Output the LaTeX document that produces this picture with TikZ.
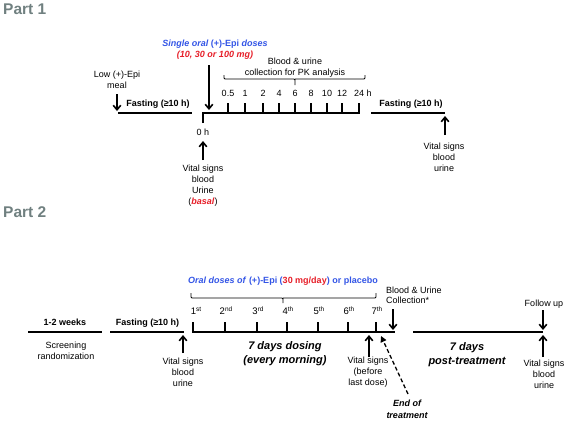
\documentclass[tikz,border=0pt]{standalone}
\usepackage{fontspec}
\setmainfont{Liberation Sans}
\usetikzlibrary{arrows.meta}
\definecolor{titlegray}{RGB}{112,128,128}
\definecolor{doseblue}{RGB}{51,85,230}
\definecolor{dosered}{RGB}{230,30,40}
\newcommand{\ordsup}[1]{\raisebox{3pt}{\fontsize{6.5}{7}\selectfont #1}}
\tikzset{
  txt/.style={font=\fontsize{9}{11}\selectfont, align=center, inner sep=0pt},
  bold/.style={txt, font=\fontsize{9}{11}\selectfont\bfseries},
  big/.style={txt, font=\fontsize{11}{14}\selectfont\bfseries\itshape},
  parttitle/.style={inner sep=0pt, anchor=west, text=titlegray, font=\fontsize{15.5}{18}\selectfont\bfseries},
  bar/.style={line width=1.6pt},
  tickmark/.style={line width=1.5pt},
  arr/.style={line width=1.6pt, -{Straight Barb[length=4.5pt,width=7.5pt]}},
  dasharr/.style={line width=1.3pt, dashed, dash pattern=on 4pt off 2.5pt, -{Triangle[length=6pt,width=6pt]}},
  bracket/.style={line width=0.8pt, rounded corners=1pt},
}

\begin{document}
\begin{tikzpicture}[x=1pt,y=-1pt]
  \useasboundingbox (0,0) rectangle (567,421);

  % Part 1
  \node[parttitle] (title1) at (3,9) {Part 1};

  % Meal and first fasting
  \node[txt] (meal) at (117,80) {Low (+)-Epi\\meal};
  \coordinate (mealA) at (117,94);
  \coordinate (mealB) at (117,111);
  \coordinate (fastA) at (118,113);
  \coordinate (fastB) at (192,113);
  \node[bold, anchor=base] (fast1) at (158,106.5) {Fasting (≥10 h)};
  \draw[arr] (mealA) -- (mealB);
  \draw[bar] (fastA) -- (fastB);

  % Dose and PK sampling
  \node[bold, text=doseblue] (dose1) at (215,49.5)
    {\textit{Single oral} (+)-Epi \textit{doses}\\\textcolor{dosered}{\textit{(10, 30 or 100 mg)}}};
  \coordinate (doseA) at (209,65);
  \coordinate (doseB) at (209,110);
  \draw[arr] (doseA) -- (doseB);

  \coordinate (zeroA) at (203,123);
  \coordinate (lineB) at (360,113);
  \draw[bar] (zeroA) |- (lineB);
  \foreach \t/\x [count=\i] in {0.5/228, 1/245, 2/263, 4/279, 6/295, 8/311, 10/327, 12/342, {24\rlap{ h}}/359} {
    \draw[tickmark] (\x,113) -- (\x,103);
    \node[txt, anchor=base] (h\i) at (\x,96.5) {\t};
  }
  \node[txt] (pk) at (295,67.5) {Blood \& urine\\collection for PK analysis};
  \draw[bracket] (224,75) |- (295,79) -- (295,85) (295,79) -| (365,75);

  \node[txt, anchor=base] (zero) at (203,135.5) {0 h};
  \coordinate (vitA) at (203,160);
  \coordinate (vitB) at (203,141);
  \draw[arr] (vitA) -- (vitB);
  \node[txt] (vit1) at (203,185.5)
    {Vital signs\\blood\\Urine\\(\textcolor{dosered}{\textbf{\textit{basal}}})};

  % Second fasting
  \coordinate (fastC) at (371,113);
  \coordinate (fastD) at (445,113);
  \draw[bar] (fastC) -- (fastD);
  \node[bold, anchor=base] (fast2) at (411,106.5) {Fasting (≥10 h)};
  \coordinate (vitC) at (445,135);
  \coordinate (vitD) at (445,116);
  \draw[arr] (vitC) -- (vitD);
  \node[txt] (vit2) at (444,157) {Vital signs\\blood\\urine};

  % Part 2
  \node[parttitle] (title2) at (3,212) {Part 2};

  % Screening and fasting
  \coordinate (scrA) at (28,332);
  \coordinate (scrB) at (102,332);
  \draw[bar] (scrA) -- (scrB);
  \node[bold, anchor=base] (weeks) at (65,325) {1-2 weeks};
  \node[txt] (screen) at (66,350.5) {Screening\\randomization};

  \coordinate (fastE) at (110,332);
  \coordinate (fastF) at (184,332);
  \draw[bar] (fastE) -- (fastF);
  \node[bold, anchor=base] (fast3) at (147.5,325) {Fasting (≥10 h)};
  \coordinate (vitE) at (183,353);
  \coordinate (vitF) at (183,335);
  \draw[arr] (vitE) -- (vitF);
  \node[txt] (vit3) at (183,372) {Vital signs\\blood\\urine};

  % Seven days of dosing
  \node[bold, text=doseblue] (oral) at (283,281)
    {\textit{Oral doses of} (+)-Epi (\textcolor{dosered}{30 mg/day}) or placebo};
  \draw[bracket] (191,293) |- (283,298) -- (283,303) (283,298) -| (376,293);

  \coordinate (dayA) at (193,322);
  \coordinate (dayB) at (395,332);
  \draw[bar] (dayA) |- (dayB);
  \foreach \d/\s/\x [count=\i] in {1/st/196, 2/nd/226, 3/rd/258, 4/th/288, 5/th/319, 6/th/349, 7/th/377} {
    \ifnum\i>1 \draw[tickmark] (\x-1,332) -- (\x-1,322); \fi
    \node[txt, font=\fontsize{9.5}{11}\selectfont, anchor=base] (d\i) at (\x,314.5) {\d\ordsup{\s}};
  }
  \node[big] (dosing) at (285,354) {7 days dosing\\(every morning)};

  \coordinate (vitG) at (369,357);
  \coordinate (vitH) at (369,335);
  \draw[arr] (vitG) -- (vitH);
  \node[txt] (vit4) at (368,372) {Vital signs\\(before\\last dose)};

  \node[txt, font=\fontsize{9}{12}\selectfont\bfseries\itshape] (eot) at (407,409) {End of\\treatment};
  \coordinate (eotA) at (408,394);
  \coordinate (eotB) at (381,336);
  \draw[dasharr] (eotA) -- (eotB);

  \node[txt, font=\fontsize{9}{10}\selectfont, align=left, anchor=west] (coll) at (386,295) {Blood \& Urine\\Collection*};
  \coordinate (collA) at (393,309);
  \coordinate (collB) at (393,330);
  \draw[arr] (collA) -- (collB);

  % Post-treatment and follow up
  \coordinate (postA) at (413,332);
  \coordinate (postB) at (543,332);
  \draw[bar] (postA) -- (postB);
  \node[big] (post) at (467,355) {7 days\\post-treatment};

  \node[txt, anchor=base] (follow) at (544,306.5) {Follow up};
  \coordinate (folA) at (543,310);
  \coordinate (folB) at (543,330);
  \draw[arr] (folA) -- (folB);
  \coordinate (vitI) at (543,357);
  \coordinate (vitJ) at (543,335);
  \draw[arr] (vitI) -- (vitJ);
  \node[txt] (vit5) at (544,374) {Vital signs\\blood\\urine};
\end{tikzpicture}
\end{document}
